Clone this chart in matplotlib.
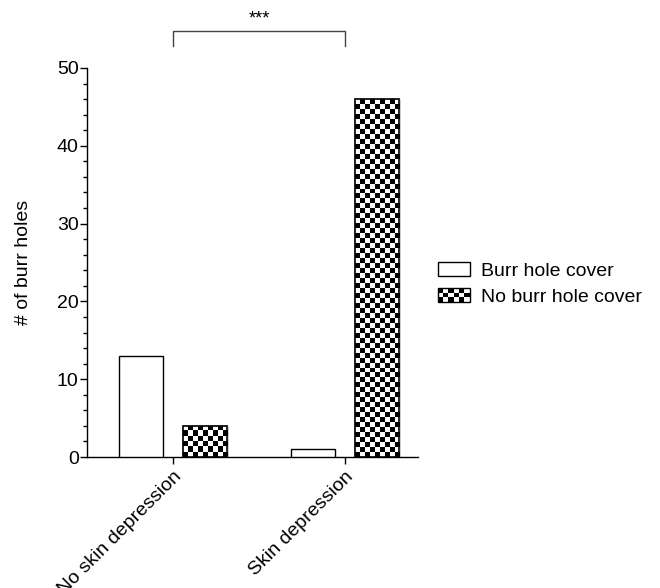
import numpy as np
import matplotlib
matplotlib.use('Agg')
import matplotlib.pyplot as plt
from matplotlib.patches import Rectangle
from matplotlib.legend_handler import HandlerBase
from matplotlib.ticker import MultipleLocator

plt.rcParams['font.family'] = ['Liberation Sans', 'DejaVu Sans']

# Datos
categories = ['No skin depression', 'Skin depression']
series_names = ['Burr hole cover', 'No burr hole cover']
cover = [13, 1]
no_cover = [4, 46]

fig = plt.figure(figsize=(6.6, 5.88), dpi=100)
ax = fig.add_axes([87 / 660, 1 - 457 / 588, (418 - 87) / 660, (457 - 68) / 588])

x = np.arange(len(categories))
w = 0.256
off = 0.186
ax.set_xlim(-0.5, 1.425)
ax.set_ylim(0, 50)

b1 = ax.bar(x - off, cover, w, color='white', edgecolor='black', linewidth=1, zorder=3)
b2 = ax.bar(x + off, no_cover, w, color='white', edgecolor='black', linewidth=1, zorder=3)


def checker(nx, ny):
    return (np.add.outer(np.arange(ny), np.arange(nx)) % 2).astype(float)


# Relleno de tablero de ajedrez
cell = 5.0  # pixeles
fig.canvas.draw()
for bar in b2:
    x0, y0 = bar.get_x(), bar.get_y()
    bw, bh = bar.get_width(), bar.get_height()
    p0 = ax.transData.transform((x0, y0))
    p1 = ax.transData.transform((x0 + bw, y0 + bh))
    nx = max(1, int(round((p1[0] - p0[0]) / cell)))
    ny = max(1, int(round((p1[1] - p0[1]) / cell)))
    img = ax.imshow(checker(nx, ny), cmap='gray', vmin=0, vmax=1, origin='lower',
                    extent=(x0, x0 + bw, y0, y0 + bh), aspect='auto',
                    interpolation='nearest', zorder=3.5)
    img.set_clip_path(bar)
    edge = Rectangle((x0, y0), bw, bh, fill=False, edgecolor='black', linewidth=1.2, zorder=4)
    ax.add_patch(edge)

ax.set_xlim(-0.5, 1.425)
ax.set_ylim(0, 50)

for s in ['top', 'right']:
    ax.spines[s].set_visible(False)
ax.spines['left'].set_linewidth(1)
ax.spines['bottom'].set_linewidth(1)

ax.set_xticks(x)
ax.set_xticklabels(categories, rotation=45, ha='right', rotation_mode='anchor', fontsize=14)
ax.yaxis.set_major_locator(MultipleLocator(10))
ax.yaxis.set_minor_locator(MultipleLocator(2))
ax.tick_params(axis='y', which='major', length=5, width=1, labelsize=14, pad=1)
ax.tick_params(axis='y', which='minor', length=3, width=1)
ax.tick_params(axis='x', length=5, width=1, pad=3)
ax.set_ylabel('# of burr holes', fontsize=14, labelpad=18)

# Corchete de significancia
yb, yd = 54.76, 52.8
ax.plot([x[0], x[0], x[1], x[1]], [yd, yb, yb, yd], color='#444444', linewidth=1,
        clip_on=False)
ax.text((x[0] + x[1]) / 2, 56.3, '***', ha='center', va='center', fontsize=13,
        clip_on=False)


class CheckerHandler(HandlerBase):
    def create_artists(self, legend, orig_handle, xdescent, ydescent, width, height,
                       fontsize, trans):
        arts = []
        nx, ny = 6, 3
        cw, ch = width / nx, height / ny
        for i in range(nx):
            for j in range(ny):
                if (i + j) % 2 == 0:
                    r = Rectangle((-xdescent + i * cw, -ydescent + j * ch), cw, ch,
                                  facecolor='black', edgecolor='none', transform=trans)
                    arts.append(r)
        frame = Rectangle((-xdescent, -ydescent), width, height, fill=False,
                          edgecolor='black', linewidth=1, transform=trans)
        arts.append(frame)
        return arts


h1 = Rectangle((0, 0), 1, 1, facecolor='white', edgecolor='black', linewidth=1)
h2 = Rectangle((0, 0), 1, 1, facecolor='white', edgecolor='black')
fig.legend([h1, h2], series_names, handler_map={h2: CheckerHandler()},
           loc='center left', bbox_to_anchor=(420 / 660, 1 - 284 / 588),
           frameon=False, fontsize=14, handlelength=1.65, handleheight=0.72,
           handletextpad=0.57, labelspacing=0.4)

fig.savefig('out.png', dpi=100)
